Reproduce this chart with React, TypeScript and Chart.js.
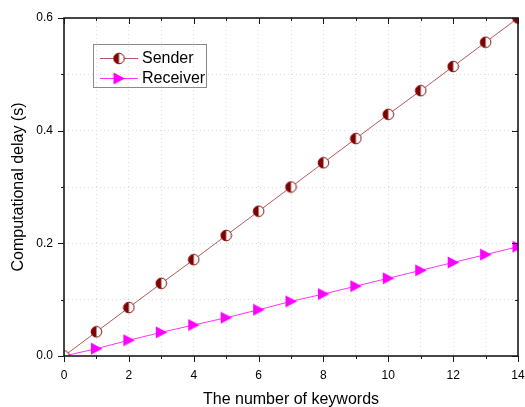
import { useEffect, useRef } from 'react';
import { Chart, registerables } from 'chart.js';
Chart.register(...registerables);

const keywords = [0, 1, 2, 3, 4, 5, 6, 7, 8, 9, 10, 11, 12, 13, 14];
const senderDelay = [0, 0.043, 0.086, 0.129, 0.171, 0.214, 0.257, 0.3, 0.343, 0.386, 0.429, 0.471, 0.514, 0.557, 0.6];
const receiverDelay = [0, 0.013, 0.028, 0.042, 0.055, 0.068, 0.082, 0.097, 0.11, 0.124, 0.138, 0.152, 0.166, 0.18, 0.194];
const seriesNames = ['Sender', 'Receiver'];
const xTitle = 'The number of keywords';
const yTitle = 'Computational delay (s)';

const FONT = 'Arial, "Liberation Sans", sans-serif';

function makeHalfCircle(): HTMLCanvasElement {
  const c = document.createElement('canvas');
  c.width = 13; c.height = 13;
  const ctx = c.getContext('2d')!;
  const cx = 6.5, cy = 6.5, r = 5.3;
  ctx.fillStyle = '#ffffff';
  ctx.beginPath(); ctx.arc(cx, cy, r, 0, Math.PI * 2); ctx.fill();
  ctx.fillStyle = '#800000';
  ctx.beginPath(); ctx.arc(cx, cy, r, Math.PI / 2, Math.PI * 1.5); ctx.closePath(); ctx.fill();
  ctx.strokeStyle = '#800000'; ctx.lineWidth = 1;
  ctx.beginPath(); ctx.arc(cx, cy, r, 0, Math.PI * 2); ctx.stroke();
  return c;
}

function makeTriangle(): HTMLCanvasElement {
  const c = document.createElement('canvas');
  c.width = 13; c.height = 13;
  const ctx = c.getContext('2d')!;
  ctx.fillStyle = '#ff00ff';
  ctx.beginPath();
  ctx.moveTo(1, 0.5); ctx.lineTo(1, 12.5); ctx.lineTo(12.5, 6.5); ctx.closePath();
  ctx.fill();
  return c;
}

export default function App() {
  const ref = useRef<HTMLCanvasElement>(null);
  useEffect(() => {
    document.body.style.margin = '0';
    const half = makeHalfCircle();
    const tri = makeTriangle();
    const markers = [half, tri];
    const lineColors = ['#b55a5a', '#ff33ff'];

    const framePlugin = {
      id: 'frame',
      afterDraw(chart: any) {
        const { ctx, chartArea: a } = chart;
        const xs = chart.scales.x, ys = chart.scales.y;
        ctx.save();
        ctx.strokeStyle = '#1a1a1a';
        ctx.lineWidth = 1;
        ctx.beginPath();
        xs.ticks.forEach((t: any, i: number) => {
          const px = Math.round(xs.getPixelForValue(t.value)) + 0.5;
          const len = i % 2 === 0 ? 6 : 3;
          ctx.moveTo(px, a.bottom); ctx.lineTo(px, a.bottom + len);
          ctx.moveTo(px, a.top); ctx.lineTo(px, a.top + len);
        });
        ys.ticks.forEach((t: any, i: number) => {
          const py = Math.round(ys.getPixelForValue(t.value)) + 0.5;
          const len = i % 2 === 0 ? 6 : 3;
          ctx.moveTo(a.left, py); ctx.lineTo(a.left - len, py);
          ctx.moveTo(a.right, py); ctx.lineTo(a.right - len, py);
        });
        ctx.stroke();
        ctx.lineWidth = 1.6;
        ctx.strokeRect(a.left, a.top, a.right - a.left, a.bottom - a.top);

        // legend
        const bx = 93, by = 44, bw = 113, bh = 43;
        ctx.lineWidth = 1;
        ctx.strokeStyle = '#8a8a8a';
        ctx.strokeRect(bx + 0.5, by + 0.5, bw, bh);
        ctx.font = `16px ${FONT}`;
        ctx.textBaseline = 'middle';
        ctx.fillStyle = '#000';
        chart.data.datasets.forEach((ds: any, i: number) => {
          const y = by + 14 + i * 20;
          ctx.strokeStyle = lineColors[i];
          ctx.lineWidth = 1;
          ctx.beginPath();
          ctx.moveTo(100, y + 0.5); ctx.lineTo(138, y + 0.5);
          ctx.stroke();
          const m = markers[i];
          ctx.drawImage(m, 119 - m.width / 2, y - m.height / 2 + 0.5);
          ctx.fillStyle = '#000';
          ctx.fillText(ds.label, 142, y + 1);
        });
        ctx.restore();
      },
    };

    const chart = new Chart(ref.current!, {
      type: 'line',
      data: {
        labels: keywords,
        datasets: [
          {
            label: seriesNames[0],
            data: keywords.map((k, i) => ({ x: k, y: senderDelay[i] })),
            borderColor: lineColors[0],
            borderWidth: 1,
            pointStyle: half as any,
            pointRadius: 6,
            clip: 0 as any,
          },
          {
            label: seriesNames[1],
            data: keywords.map((k, i) => ({ x: k, y: receiverDelay[i] })),
            borderColor: lineColors[1],
            borderWidth: 1,
            pointStyle: tri as any,
            pointRadius: 6,
            clip: 0 as any,
          },
        ],
      },
      options: {
        animation: false,
        responsive: false,
        layout: { padding: { top: 18, right: 7, left: 0, bottom: 0 } },
        plugins: { legend: { display: false }, tooltip: { enabled: false } },
        scales: {
          x: {
            type: 'linear',
            min: 0,
            max: 14,
            ticks: {
              stepSize: 1,
              autoSkip: false,
              maxRotation: 0,
              padding: 12,
              color: '#000',
              font: { family: FONT, size: 12 },
              callback: (v: any) => (Number(v) % 2 === 0 ? String(v) : ''),
            },
            grid: { color: '#dcdcdc', lineWidth: 1, drawTicks: false },
            border: { display: false, dash: [1, 3] },
            title: {
              display: true,
              text: xTitle,
              color: '#000',
              font: { family: FONT, size: 16 },
              padding: { top: 0, bottom: -2 },
            },
            afterFit: (s: any) => { s.height = 51; s.paddingLeft = 0; s.paddingRight = 0; },
          },
          y: {
            type: 'linear',
            min: 0,
            max: 0.6,
            ticks: {
              stepSize: 0.1,
              autoSkip: false,
              padding: 11,
              color: '#000',
              font: { family: FONT, size: 12 },
              callback: (v: any, i: number) => (i % 2 === 0 ? Number(v).toFixed(1) : ''),
            },
            grid: { color: '#dcdcdc', lineWidth: 1, drawTicks: false },
            border: { display: false, dash: [1, 3] },
            title: {
              display: true,
              text: yTitle,
              color: '#000',
              font: { family: FONT, size: 16 },
              padding: { top: 9, bottom: 0 },
            },
            afterFit: (s: any) => { s.width = 64; s.paddingTop = 0; s.paddingBottom = 0; },
          },
        },
      },
      plugins: [framePlugin],
    });
    return () => chart.destroy();
  }, []);
  return <canvas ref={ref} width={525} height={407} style={{ display: 'block' }} />;
}
